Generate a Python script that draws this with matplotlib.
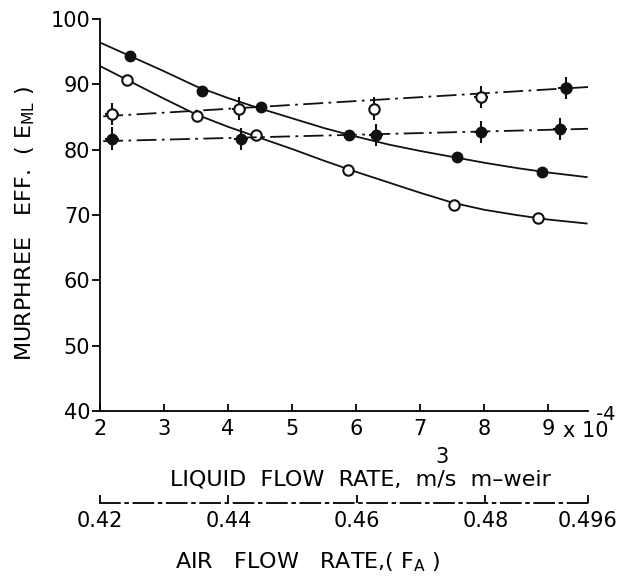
import matplotlib
matplotlib.use("Agg")
import matplotlib.pyplot as plt

plt.rcParams['font.family'] = ['DejaVu Sans']
plt.rcParams['mathtext.default'] = 'regular'

# liquid flow rate (x 10^-4 m3/s m-weir) -- solid curves
liq_filled = [2.47, 3.59, 4.52, 5.89, 7.58, 8.90]
eff_filled = [94.3, 89.0, 86.5, 82.2, 78.9, 76.6]
liq_open = [2.42, 3.52, 4.44, 5.88, 7.53, 8.84]
eff_open = [90.7, 85.2, 82.2, 76.9, 71.5, 69.6]

# curves drawn through the points
curve_x = [2.0, 2.5, 3.0, 3.5, 4.0, 4.5, 5.0, 5.5, 6.0, 6.5, 7.0, 7.5, 8.0, 8.5, 9.0, 9.6]
curve_top = [96.4, 94.2, 92.0, 89.7, 87.9, 86.3, 84.8, 83.3, 82.0, 80.8, 79.8, 78.9, 78.0, 77.2, 76.5, 75.8]
curve_low = [92.8, 90.3, 87.8, 85.4, 83.5, 81.8, 80.1, 78.3, 76.6, 75.0, 73.4, 71.9, 70.8, 70.0, 69.3, 68.7]

# air flow rate F_A -- dash-dot lines with error bars
air_up = [0.4219, 0.4417, 0.4627, 0.4794, 0.4925]
eff_up = [85.4, 86.3, 86.3, 88.1, 89.4]
fill_up = [False, False, False, False, True]
air_lo = [0.4219, 0.4419, 0.4630, 0.4794, 0.4917]
eff_lo = [81.7, 81.6, 82.2, 82.7, 83.2]
line_air = [0.4205, 0.4962]
line_up = [85.1, 89.6]
line_lo = [81.3, 83.2]

liq_ticks = [2, 3, 4, 5, 6, 7, 8, 9]
eff_ticks = [40, 50, 60, 70, 80, 90, 100]
air_ticks = [0.42, 0.44, 0.46, 0.48, 0.496]
air_labels = ['0.42', '0.44', '0.46', '0.48', '0.496']

W, H = 617, 578
fig = plt.figure(figsize=(W / 100, H / 100), dpi=100)
ax = fig.add_axes([100 / W, 1 - 411 / H, 488 / W, 392 / H])
ax.set_xlim(2, 9.62)
ax.set_ylim(40, 100)
for s in ['top', 'right']:
    ax.spines[s].set_visible(False)
ax.spines['left'].set_linewidth(1.3)
ax.spines['bottom'].set_linewidth(1.3)
ax.set_xticks(liq_ticks)
ax.set_yticks(eff_ticks)
ax.tick_params(axis='y', direction='out', length=6, width=1.3, labelsize=15, pad=1)
ax.tick_params(axis='x', direction='in', length=5, width=1.3, labelsize=15, pad=6)

lc = '#111111'
ax.plot(curve_x, curve_top, color=lc, lw=1.3)
ax.plot(curve_x, curve_low, color=lc, lw=1.3)
ax.plot(liq_filled, eff_filled, 'o', ms=7.5, color=lc)
ax.plot(liq_open, eff_open, 'o', ms=7.5, mfc='white', mec=lc, mew=1.5)

ax2 = ax.twiny()
ax2.set_xlim(0.42, 0.496)
ax2.axis('off')
dd = (0, (11, 3, 1.5, 3))
ax2.plot(line_air, line_up, color=lc, lw=1.3, ls=dd)
ax2.plot(line_air, line_lo, color=lc, lw=1.3, ls=dd)
for x, y, f in zip(air_up, eff_up, fill_up):
    xe = 0 if abs(x - 0.4627) < 1e-4 else 0.0011
    ax2.errorbar(x, y, yerr=1.7, xerr=xe, fmt='o', ms=7.5, color=lc,
                 mfc=lc if f else 'white', mec=lc, mew=1.5, elinewidth=1.5, capsize=0)
for x, y in zip(air_lo, eff_lo):
    ax2.errorbar(x, y, yerr=1.7, xerr=0.0011, fmt='o', ms=7.5, color=lc,
                 mfc=lc, mec=lc, elinewidth=1.5, capsize=0)

fig.text(563 / W, 1 - 431 / H, 'x 10', fontsize=15, ha='left', va='center')
fig.text(596 / W, 1 - 414 / H, '-4', fontsize=14, ha='left', va='center')

fig.text(25 / W, 1 - 224 / H, 'MURPHREE   EFF.  ( E$_{ML}$ )', rotation=90,
         fontsize=16, ha='center', va='center')
fig.text(360 / W, 1 - 480 / H, 'LIQUID  FLOW  RATE,  m/s  m\u2013weir', fontsize=16,
         ha='center', va='center')
fig.text(442 / W, 1 - 457 / H, '3', fontsize=15, ha='center', va='center')

# air flow rate axis (dash-dot)
axa = fig.add_axes([100 / W, 1 - 503 / H, 488 / W, 0.001])
axa.set_xlim(0.42, 0.496)
axa.set_yticks([])
for s in ['top', 'right', 'left']:
    axa.spines[s].set_visible(False)
axa.spines['bottom'].set_linestyle(dd)
axa.spines['bottom'].set_linewidth(1.3)
axa.set_xticks(air_ticks)
axa.set_xticklabels(air_labels)
axa.tick_params(axis='x', direction='in', length=6, width=1.3, labelsize=15, pad=6)
axa.patch.set_alpha(0)

fig.text(308 / W, 1 - 562 / H, 'AIR   FLOW   RATE,( F$_A$ )', fontsize=16,
         ha='center', va='center')

fig.savefig('out.png', dpi=100)
